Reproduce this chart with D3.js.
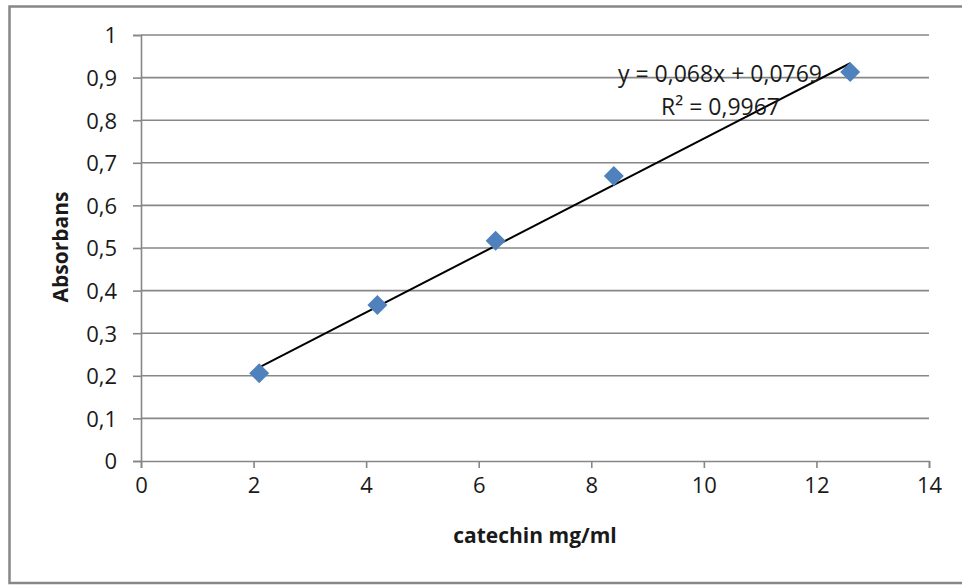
<!DOCTYPE html>
<html>
<head>
<meta charset="utf-8">
<script src="https://cdn.jsdelivr.net/npm/d3@7"></script>
<style>
  body { margin: 0; background: #fff; }
  text { font-family: "Open Sans", "Noto Sans", sans-serif; fill: #1a1a1a; }
</style>
</head>
<body>
<script>
// values
var concentration = [2.1, 4.2, 6.3, 8.4, 12.6];
var absorbance = [0.206, 0.366, 0.517, 0.669, 0.913];
var xTicks = [0, 2, 4, 6, 8, 10, 12, 14];
var yTicks = [0, 0.1, 0.2, 0.3, 0.4, 0.5, 0.6, 0.7, 0.8, 0.9, 1];
var slope = 0.068, intercept = 0.0769;
var eqLabel = "y = 0,068x + 0,0769";
var r2Label = "R² = 0,9967";

var width = 962;
var height = 585;
// plot area (note: "top" is a reserved window global, so prefixed names)
var plotLeft = 141, plotRight = 929, plotTop = 35, plotBottom = 461;
var gridColor = "#878787";
var fmt = function (d) { return String(d).replace(".", ","); };

var svg = d3.select("body").append("svg")
  .attr("width", width)
  .attr("height", height);

// outer chart border
svg.append("rect")
  .attr("x", 9.5).attr("y", 6.5)
  .attr("width", 965).attr("height", 576.5)
  .attr("fill", "none")
  .attr("stroke", gridColor)
  .attr("stroke-width", 2.5);

var x = d3.scaleLinear().domain([0, 14]).range([plotLeft, plotRight]);
var y = d3.scaleLinear().domain([0, 1]).range([plotBottom, plotTop]);

// horizontal gridlines
svg.append("g")
  .selectAll("line")
  .data(yTicks.slice(1))
  .enter()
  .append("line")
  .attr("x1", plotLeft).attr("x2", plotRight)
  .attr("y1", function (d) { return y(d); })
  .attr("y2", function (d) { return y(d); })
  .attr("stroke", gridColor)
  .attr("stroke-width", 1.6);

// y axis
var yAxis = svg.append("g")
  .attr("transform", "translate(" + plotLeft + ",0)")
  .call(d3.axisLeft(y).tickValues(yTicks).tickFormat(fmt).tickSize(8).tickPadding(16));
// x axis
var xAxis = svg.append("g")
  .attr("transform", "translate(0," + plotBottom + ")")
  .call(d3.axisBottom(x).tickValues(xTicks).tickSize(7).tickPadding(9));

[yAxis, xAxis].forEach(function (ax) {
  ax.select(".domain").attr("stroke", gridColor).attr("stroke-width", 1.6);
  ax.selectAll(".tick line").attr("stroke", gridColor).attr("stroke-width", 1.6);
  ax.selectAll(".tick text")
    .attr("font-size", "22px")
    .attr("font-family", "'Open Sans', sans-serif")
    .attr("fill", "#1a1a1a");
});
yAxis.selectAll(".tick text").attr("dy", "0.36em");

// trendline over the data range
var xMin = d3.min(concentration), xMax = d3.max(concentration);
svg.append("line")
  .attr("x1", x(xMin)).attr("y1", y(slope * xMin + intercept))
  .attr("x2", x(xMax)).attr("y2", y(slope * xMax + intercept))
  .attr("stroke", "#000")
  .attr("stroke-width", 2);

// points
var pts = concentration.map(function (c, i) { return { c: c, a: absorbance[i] }; });
svg.append("g")
  .selectAll("path")
  .data(pts)
  .enter()
  .append("path")
  .attr("d", d3.symbol().type(d3.symbolSquare).size(200))
  .attr("transform", function (d) {
    return "translate(" + x(d.c) + "," + y(d.a) + ") rotate(45)";
  })
  .attr("fill", "#4F81BD");

// trendline labels
svg.append("text")
  .attr("x", 822).attr("y", 82)
  .attr("text-anchor", "end")
  .attr("font-size", "23px")
  .text(eqLabel);
svg.append("text")
  .attr("x", 780).attr("y", 115)
  .attr("text-anchor", "end")
  .attr("font-size", "23px")
  .text(r2Label);

// axis titles
svg.append("text")
  .attr("x", 535).attr("y", 543)
  .attr("text-anchor", "middle")
  .attr("font-size", "21px")
  .attr("font-weight", "bold")
  .text("catechin mg/ml");
svg.append("text")
  .attr("transform", "translate(68,247) rotate(-90)")
  .attr("text-anchor", "middle")
  .attr("font-size", "21px")
  .attr("font-weight", "bold")
  .text("Absorbans");
</script>
</body>
</html>
